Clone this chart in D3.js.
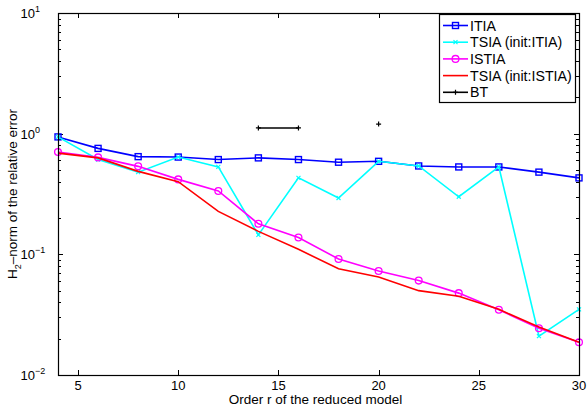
<!DOCTYPE html>
<html>
<head>
<meta charset="utf-8">
<script src="https://cdn.jsdelivr.net/npm/d3@7"></script>
<style>
  body { margin: 0; background: #fff; }
  svg { font-family: "Liberation Sans", Arial, sans-serif; }
</style>
</head>
<body>
<div id="wrapper"></div>
<script>
// # Data
const orders = [4, 6, 8, 10, 12, 14, 16, 18, 20, 22, 24, 26, 28, 30];
const itia = [0.94, 0.755, 0.645, 0.64, 0.61, 0.63, 0.61, 0.58, 0.59, 0.54, 0.53, 0.53, 0.48, 0.43];
const tsiaItia = [0.94, 0.61, 0.48, 0.64, 0.53, 0.145, 0.43, 0.293, 0.59, 0.54, 0.30, 0.53, 0.021, 0.035];
const istia = [0.705, 0.636, 0.536, 0.418, 0.335, 0.179, 0.138, 0.0915, 0.0727, 0.0606, 0.0477, 0.0347, 0.0244, 0.0187];
const tsiaIstia = [0.69, 0.63, 0.487, 0.40, 0.227, 0.155, 0.110, 0.076, 0.065, 0.050, 0.045, 0.035, 0.025, 0.0187];
const bt = [null, null, null, null, null, 1.115, 1.115, null, 1.2, null, null, null, null, null];
const xTicks = [5, 10, 15, 20, 25, 30];
const yExponents = [-2, -1, 0, 1];

const series = [
  { name: "ITIA", values: itia, color: "#0000ff", marker: "square" },
  { name: "TSIA (init:ITIA)", values: tsiaItia, color: "#00ffff", marker: "x" },
  { name: "ISTIA", values: istia, color: "#ff00ff", marker: "circle" },
  { name: "TSIA (init:ISTIA)", values: tsiaIstia, color: "#ff0000", marker: "none" },
  { name: "BT", values: bt, color: "#000000", marker: "plus" },
];

// # Dimensions
const dimensions = {
  width: 587,
  height: 411,
  margin: { top: 13, right: 8, bottom: 36, left: 58 },
};
dimensions.boundedWidth = dimensions.width - dimensions.margin.left - dimensions.margin.right;
dimensions.boundedHeight = dimensions.height - dimensions.margin.top - dimensions.margin.bottom;

const svg = d3.select("#wrapper").append("svg")
  .attr("width", dimensions.width)
  .attr("height", dimensions.height);

const bounds = svg.append("g")
  .attr("transform", `translate(${dimensions.margin.left},${dimensions.margin.top})`);

// # Scales
const xScale = d3.scaleLinear().domain([4, 30]).range([0, dimensions.boundedWidth]);
const yScale = d3.scaleLog().domain([0.01, 10]).range([dimensions.boundedHeight, 0]);

// # Ticks (inside, on all four sides)
const W = dimensions.boundedWidth, H = dimensions.boundedHeight;
const ticks = bounds.append("g").attr("stroke", "#000").attr("stroke-width", 1);
xTicks.forEach(t => {
  const x = Math.round(xScale(t)) + 0.5;
  ticks.append("line").attr("x1", x).attr("x2", x).attr("y1", H).attr("y2", H - 5);
  ticks.append("line").attr("x1", x).attr("x2", x).attr("y1", 0).attr("y2", 5);
});
yExponents.forEach(e => {
  for (let m = 1; m <= 9; m++) {
    const v = m * Math.pow(10, e);
    if (v > 10) break;
    const y = Math.round(yScale(v)) + 0.5;
    const len = m === 1 ? 5 : 3;
    ticks.append("line").attr("x1", 0).attr("x2", len).attr("y1", y).attr("y2", y);
    ticks.append("line").attr("x1", W).attr("x2", W - len).attr("y1", y).attr("y2", y);
  }
});

// # Tick labels
bounds.append("g").selectAll("text")
  .data(xTicks)
  .join("text")
  .attr("x", d => xScale(d))
  .attr("y", H + 15)
  .attr("text-anchor", "middle")
  .style("font-size", "13px")
  .text(d => d);

const yLabels = bounds.append("g").selectAll("g")
  .data(yExponents)
  .join("g")
  .attr("transform", d => `translate(0,${yScale(Math.pow(10, d))})`);
yLabels.append("text")
  .attr("x", -23).attr("y", 5)
  .attr("text-anchor", "end")
  .style("font-size", "13px")
  .text("10");
yLabels.append("text")
  .attr("x", -23).attr("y", -1)
  .style("font-size", "9px")
  .text(d => d < 0 ? "\u2212" + Math.abs(d) : d);

// # Lines
const line = d3.line()
  .defined(d => d.v != null)
  .x(d => xScale(d.r))
  .y(d => yScale(d.v));

function drawMarker(g, x, y, s) {
  if (s.marker === "square") {
    g.append("rect")
      .attr("x", x - 3).attr("y", y - 3).attr("width", 6).attr("height", 6)
      .attr("fill", "none").attr("stroke", s.color).attr("stroke-width", 1.4);
  } else if (s.marker === "circle") {
    g.append("circle")
      .attr("cx", x).attr("cy", y).attr("r", 3.4)
      .attr("fill", "none").attr("stroke", s.color).attr("stroke-width", 1.3);
  } else if (s.marker === "x") {
    const k = 2;
    g.append("path")
      .attr("d", `M${x - k},${y - k}L${x + k},${y + k}M${x - k},${y + k}L${x + k},${y - k}`)
      .attr("stroke", s.color).attr("stroke-width", 1.2);
  } else if (s.marker === "plus") {
    const k = 2.5;
    g.append("path")
      .attr("d", `M${x - k},${y}L${x + k},${y}M${x},${y - k}L${x},${y + k}`)
      .attr("stroke", s.color).attr("stroke-width", 1.2);
  }
}

series.forEach(s => {
  const pts = orders.map((r, i) => ({ r, v: s.values[i] }));
  const g = bounds.append("g");
  g.append("path")
    .datum(pts)
    .attr("d", line)
    .attr("fill", "none")
    .attr("stroke", s.color)
    .attr("stroke-width", 1.6);
  pts.filter(d => d.v != null)
    .forEach(d => drawMarker(g, xScale(d.r), yScale(d.v), s));
});

// # Box
bounds.append("rect")
  .attr("x", 0.5).attr("y", 0.5)
  .attr("width", W).attr("height", H)
  .attr("fill", "none").attr("stroke", "#000").attr("stroke-width", 1.2);

// # Legend
const legend = svg.append("g").attr("transform", "translate(439,14)");
legend.append("rect")
  .attr("x", 0.5).attr("y", 0.5).attr("width", 136).attr("height", 88)
  .attr("fill", "#fff").attr("stroke", "#000").attr("stroke-width", 1.2);
series.forEach((s, i) => {
  const y = 11.5 + i * 16.7;
  const item = legend.append("g");
  item.append("line")
    .attr("x1", 4).attr("x2", 29).attr("y1", y).attr("y2", y)
    .attr("stroke", s.color).attr("stroke-width", 1.6);
  drawMarker(item, 16.5, y, s);
  item.append("text")
    .attr("x", 31).attr("y", y + 5)
    .style("font-size", "14.2px")
    .text(s.name);
});

// # Axis labels
svg.append("text")
  .attr("x", dimensions.margin.left + W / 2 - 3)
  .attr("y", 404)
  .attr("text-anchor", "middle")
  .style("font-size", "13.5px")
  .text("Order r of the reduced model");

const yl = svg.append("text")
  .attr("transform", `translate(17,${dimensions.margin.top + H / 2}) rotate(-90)`)
  .attr("text-anchor", "middle")
  .style("font-size", "13.5px");
yl.append("tspan").text("H");
yl.append("tspan").attr("dy", 4).style("font-size", "9px").text("2");
yl.append("tspan").attr("dy", -4).text("\u2013norm of the relative error");
</script>
</body>
</html>
